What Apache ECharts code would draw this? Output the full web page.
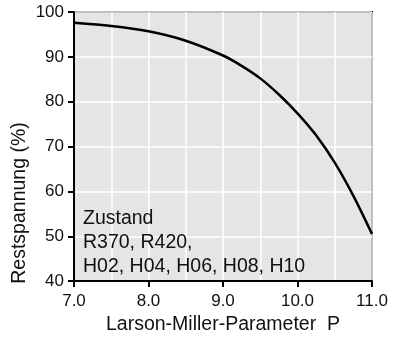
<!DOCTYPE html>
<html>
<head>
<meta charset="utf-8">
<script src="https://cdn.jsdelivr.net/npm/echarts@6/dist/echarts.min.js"></script>
<style>
  html, body { margin: 0; padding: 0; background: #fff; }
  #chart { width: 393px; height: 340px; }
</style>
</head>
<body>
<div id="chart"></div>
<script>
// Larson-Miller-Parameter P vs. Restspannung (%)
const pValues = [7.0, 7.5, 8.0, 8.5, 9.0, 9.25, 9.5, 9.75, 10.0, 10.25, 10.5, 10.75, 11.0]
const restspannung = [97.6, 96.9, 95.7, 93.6, 90.3, 88.0, 85.2, 81.6, 77.4, 72.5, 66.4, 59.0, 50.5]
const legendLines = ['Zustand', 'R370, R420,', 'H02, H04, H06, H08, H10']

const font = 'Liberation Sans, Arial, sans-serif'
const chart = echarts.init(document.getElementById('chart'))

chart.setOption({
  animation: false,
  grid: {
    left: 74, right: 21, top: 12, bottom: 58,
    show: true, backgroundColor: '#e5e5e5', borderColor: '#000', borderWidth: 2
  },
  xAxis: {
    type: 'value', min: 7, max: 11, interval: 1,
    name: 'Larson-Miller-Parameter  P', nameLocation: 'middle', nameGap: 33,
    nameTextStyle: { fontFamily: font, fontSize: 19.5, color: '#111' },
    axisLine: { show: true, lineStyle: { color: '#000', width: 2 } },
    axisTick: { show: true, length: 6, lineStyle: { color: '#000', width: 2 } },
    axisLabel: { fontFamily: font, fontSize: 17, color: '#111', margin: 12, formatter: v => v.toFixed(1) },
    splitLine: { show: true, lineStyle: { color: '#fff', width: 1.5 } },
    minorTick: { show: false, splitNumber: 2 },
    minorSplitLine: { show: true, lineStyle: { color: '#fff', width: 1.5 } }
  },
  yAxis: {
    type: 'value', min: 40, max: 100, interval: 10,
    axisLine: { show: true, lineStyle: { color: '#000', width: 2 } },
    axisTick: { show: true, length: 6, lineStyle: { color: '#000', width: 2 } },
    axisLabel: { fontFamily: font, fontSize: 17, color: '#111', margin: 10 },
    splitLine: { show: true, lineStyle: { color: '#fff', width: 1.5 } }
  },
  graphic: [
    {
      type: 'text', x: 20, y: 203, rotation: Math.PI / 2, z: 100,
      style: { text: 'Restspannung (%)', fontFamily: font, fontSize: 19.5, fill: '#111', align: 'center', verticalAlign: 'middle' }
    },
    {
      type: 'text', left: 83, top: 207, z: 100,
      style: { text: legendLines.join('\n'), fontFamily: font, fontSize: 19.5, lineHeight: 24, fill: '#111' }
    }
  ],
  series: [{
    type: 'line',
    data: pValues.map((p, i) => [p, restspannung[i]]),
    smooth: 0.3,
    symbol: 'none',
    z: 5,
    lineStyle: { color: '#000', width: 2.5 }
  }]
})
</script>
</body>
</html>
